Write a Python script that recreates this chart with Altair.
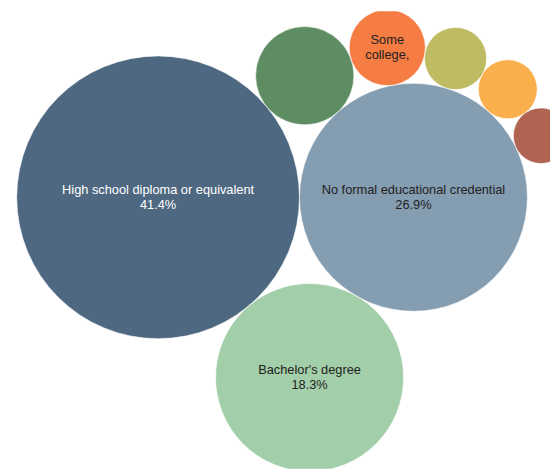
import math
import altair as alt
import pandas as pd

# ---- data ----
categories = [
    "High school diploma or equivalent",
    "No formal educational credential",
    "Bachelor's degree",
    "Postsecondary nondegree award",
    "Some college, no degree",
    "Associate's degree",
    "Doctoral or professional degree",
    "Master's degree",
]
values = [41.4, 26.9, 18.3, 5.0, 3.0, 2.0, 1.8, 1.6]
shown_labels = [
    "High school diploma or equivalent",
    "No formal educational credential",
    "Bachelor's degree",
    "",
    "Some\ncollege,",
    "",
    "",
    "",
]
show_value = [True, True, True, False, False, False, False, False]

# ---- styles ----
palette = ["#4e6882", "#849db1", "#a2cea9", "#5f8d63", "#f57c43", "#bfbb63", "#f9b04c", "#b16352"]
text_colors = ["#ffffff", "#222222", "#222222", "#222222", "#222222", "#222222", "#222222", "#222222"]
W, H = 550, 464
K = 22.3  # px of radius per sqrt(percent)
LINE_H = 15.5

# ---- circle packing layout (computed from the values) ----
radii = [K * math.sqrt(v) for v in values]


def tangent(p1, r1, p2, r2, r, side):
    d1, d2 = r1 + r, r2 + r
    dx, dy = p2[0] - p1[0], p2[1] - p1[1]
    d = math.hypot(dx, dy)
    a = (d1 * d1 - d2 * d2 + d * d) / (2 * d)
    h = math.sqrt(max(0.0, d1 * d1 - a * a))
    ux, uy = dx / d, dy / d
    return (p1[0] + a * ux - side * h * uy, p1[1] + a * uy + side * h * ux)


pos = [(0.0, 0.0), (radii[0] + radii[1], 0.0)]
pos.append(tangent(pos[0], radii[0], pos[1], radii[1], radii[2], 1))
pos.append(tangent(pos[0], radii[0], pos[1], radii[1], radii[3], -1))
for i in range(4, len(values)):
    pos.append(tangent(pos[1], radii[1], pos[i - 1], radii[i - 1], radii[i], 1))

texts = []
for lab, show, v in zip(shown_labels, show_value, values):
    t = lab
    if show:
        t = t + "\n" + f"{v:.1f}%"
    texts.append(t)

df = pd.DataFrame({
    "category": categories,
    "value": values,
    "px": [p[0] for p in pos],
    "py": [p[1] for p in pos],
    "label": texts,
})

x0, y0 = 152.3, 188.7  # where the first bubble's centre sits in the view
xs = alt.X("px:Q", scale=alt.Scale(domain=[-x0, W - x0], nice=False, zero=False), axis=None)
ys = alt.Y("py:Q", scale=alt.Scale(domain=[-y0, H - y0], nice=False, zero=False, reverse=True), axis=None)

base = alt.Chart(df)

# Vega symbol size is the area of the bounding square: (2r)^2
bubbles = base.mark_circle(opacity=1, stroke="#ffffff", strokeWidth=1, strokeOpacity=0.6, clip=True).encode(
    x=xs,
    y=ys,
    size=alt.Size("value:Q", scale=alt.Scale(domain=[0, max(values)], range=[0, 4 * (K ** 2) * max(values)]), legend=None),
    color=alt.Color("category:N", scale=alt.Scale(domain=categories, range=palette), legend=None),
)

labels = base.mark_text(
    font="Liberation Sans", fontSize=13, lineBreak="\n", lineHeight=LINE_H,
    align="center", baseline="middle", dy=-LINE_H / 2, clip=True,
).encode(
    x=xs,
    y=ys,
    text="label:N",
    color=alt.Color("category:N", scale=alt.Scale(domain=categories, range=text_colors), legend=None),
)

chart = alt.layer(bubbles, labels).resolve_scale(color="independent").properties(
    width=W, height=H, padding=0, autosize=alt.AutoSizeParams(type="none"), background="white"
).configure_view(stroke=None)

chart.save("out.html", embed_options={"renderer": "svg", "actions": False})
